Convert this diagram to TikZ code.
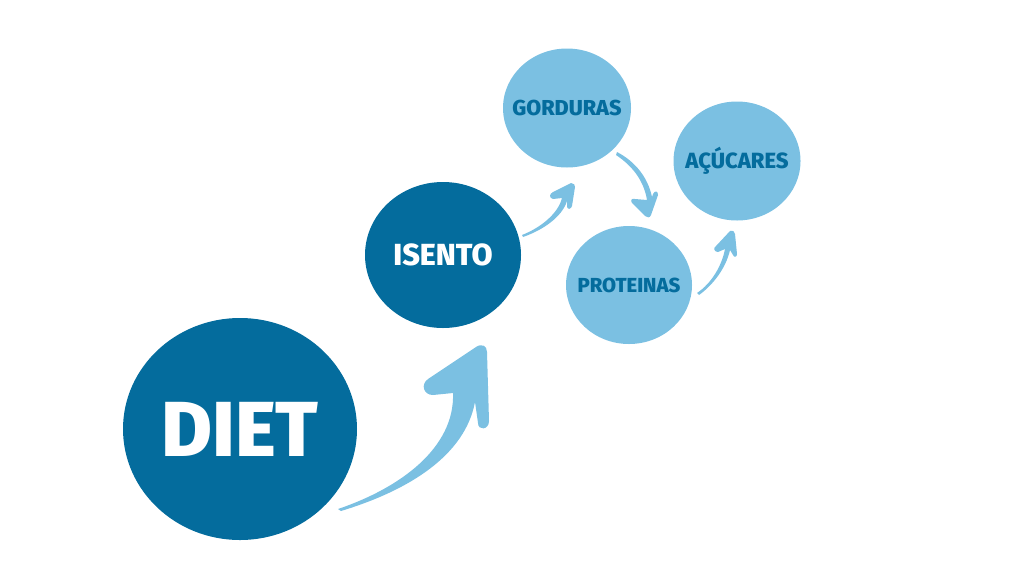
\documentclass[tikz,border=0pt]{standalone}
\usepackage{fontspec}
\usepackage{xcolor}
\usepackage{tikz}
\usetikzlibrary{shapes.geometric}
\IfFontExistsTF{Fira Sans ExtraBold}
  {\newfontfamily\dietfont{Fira Sans ExtraBold}}
  {\newfontfamily\dietfont{Fira Sans}[UprightFont=* Bold]}
\definecolor{dietdark}{HTML}{046C9D}
\definecolor{dietlight}{HTML}{7BC0E2}
\tikzset{bigball/.style = {ellipse, fill=dietdark, draw=none, inner sep=0pt, label={[text=white]center:#1}},
  smallball/.style = {ellipse, fill=dietlight, draw=none, inner sep=0pt, label={[text=dietdark]center:#1}},
  swoosh/.style = {fill=dietlight, draw=none}}

\begin{document}
\begin{tikzpicture}[x=1pt,y=-1pt,every label/.style={font=\dietfont, inner sep=0pt}]
  \useasboundingbox (0,0) rectangle (1024,576);
  \node[bigball={\fontsize{78}{78}\selectfont DIET}, minimum width=234pt, minimum height=222pt] (diet) at (240,429) {};
  \node[bigball={\fontsize{30.5}{30}\selectfont ISENTO}, minimum width=156pt, minimum height=146pt] (isento) at (443,255) {};
  \node[smallball={\fontsize{21.6}{21}\selectfont GORDURAS}, minimum width=128pt, minimum height=119pt] (gorduras) at (567,108) {};
  \node[smallball={\fontsize{22}{22}\selectfont AÇÚCARES}, minimum width=127pt, minimum height=119pt] (acucares) at (737,161) {};
  \node[smallball={\fontsize{20.3}{20}\selectfont PROTEINAS}, minimum width=126pt, minimum height=118pt] (proteinas) at (629,285) {};
  % diet -> isento
  \fill[swoosh] (338,509) .. controls (400,488) and (455,448) .. (453,393)
    -- (433,395) .. controls (424,395) and (420,385) .. (428,379)
    -- (476,347) .. controls (482,343) and (487,346) .. (487,352)
    -- (489,421) .. controls (489,430) and (478,431) .. (478,423)
    -- (475,402) .. controls (465,455) and (410,490) .. (341,511) -- cycle;
  % isento -> gorduras
  \fill[swoosh] (522,235) .. controls (540,228) and (558,214) .. (562,198)
    -- (553,199) .. controls (549,198) and (549,194) .. (553,192)
    -- (571,183) .. controls (574,183) and (575,185) .. (575,187)
    -- (572,206) .. controls (571,209) and (568,210) .. (567,207)
    -- (567,201) .. controls (562,217) and (543,230) .. (523,237) -- cycle;
  % gorduras -> proteinas
  \fill[swoosh] (617,152) .. controls (636,162) and (648,178) .. (652,197)
    -- (653,194) .. controls (655,190) and (658,191) .. (658,195)
    -- (651,215) .. controls (650,218) and (647,218) .. (645,216)
    -- (632,203) .. controls (630,200) and (632,198) .. (635,199)
    -- (647,200) .. controls (644,182) and (634,167) .. (616,155) -- cycle;
  % proteinas -> acucares
  \fill[swoosh] (697,293) .. controls (712,283) and (722,265) .. (725,249)
    -- (718,252) .. controls (714,252) and (713,248) .. (716,246)
    -- (730,231) .. controls (733,230) and (735,232) .. (735,234)
    -- (737,254) .. controls (737,257) and (734,258) .. (733,255)
    -- (730,250) .. controls (726,268) and (713,285) .. (699,295) -- cycle;
\end{tikzpicture}
\end{document}
